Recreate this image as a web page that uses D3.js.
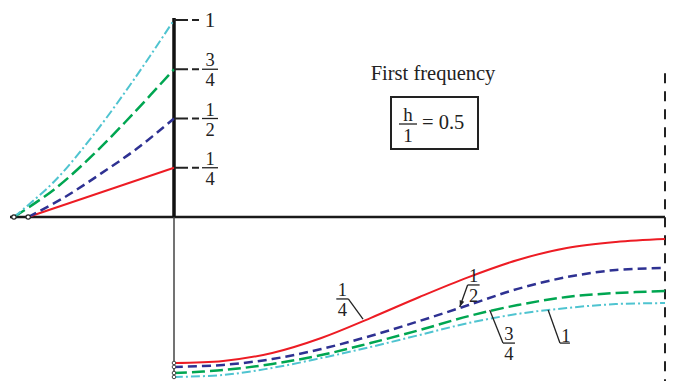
<!DOCTYPE html>
<html>
<head>
<meta charset="utf-8">
<script src="https://cdn.jsdelivr.net/npm/d3@7"></script>
<style>
  body { margin: 0; background: #fff; }
  text { font-family: "Liberation Serif", "Times New Roman", serif; fill: #222; }
</style>
</head>
<body>
<div id="chart"></div>
<script>
// mode shape data, x = position along the beam (0..1), v = deflection
const seriesNames = ["1/4", "1/2", "3/4", "1"];

// upper part (left of the support)
const leftXRed = [-0.297, 0];
const leftRed = [0, 0.25];
const leftXBlue = [-0.297, -0.223, -0.149, -0.074, 0];
const leftBlue = [0, 0.10, 0.22, 0.35, 0.5];
const leftXGreen = [-0.326, -0.244, -0.163, -0.081, 0];
const leftGreen = [0, 0.14, 0.32, 0.53, 0.75];
const leftXCyan = [-0.326, -0.244, -0.163, -0.081, 0];
const leftCyan = [0, 0.18, 0.42, 0.70, 1.0];

// lower part (span)
const lowerX = [0, 0.1, 0.2, 0.3, 0.4, 0.5, 0.6, 0.7, 0.8, 0.9, 1.0];
const lowerRed = [-0.741, -0.731, -0.690, -0.614, -0.513, -0.406, -0.305, -0.218, -0.157, -0.127, -0.112];
const lowerBlue = [-0.761, -0.751, -0.721, -0.670, -0.604, -0.528, -0.447, -0.365, -0.305, -0.269, -0.259];
const lowerGreen = [-0.792, -0.777, -0.746, -0.701, -0.640, -0.574, -0.503, -0.447, -0.406, -0.386, -0.376];
const lowerCyan = [-0.812, -0.802, -0.766, -0.716, -0.660, -0.599, -0.538, -0.492, -0.462, -0.442, -0.437];

// tick values on the vertical axis
const tickVals = [0.25, 0.5, 0.75, 1];
const tickLabels = ["1/4", "1/2", "3/4", "1"];

const width = 674;
const height = 381;

const x = d3.scaleLinear().domain([0, 1]).range([174, 665]);
const y = d3.scaleLinear().domain([0, 1]).range([217, 20]);

const svg = d3.select("#chart").append("svg")
  .attr("width", width).attr("height", height);

const styles = [
  { color: "#ed1c24", w: 2, dash: null },
  { color: "#2e3192", w: 2.5, dash: "9,5" },
  { color: "#00a651", w: 2.5, dash: "13,5" },
  { color: "#4fc4d0", w: 2, dash: "9,3,2,3" }
];

const leftSets = [
  [leftXRed, leftRed], [leftXBlue, leftBlue], [leftXGreen, leftGreen], [leftXCyan, leftCyan]
];
const lowerSets = [lowerRed, lowerBlue, lowerGreen, lowerCyan];

// axes
svg.append("line")
  .attr("x1", 10).attr("x2", x(1)).attr("y1", y(0)).attr("y2", y(0))
  .attr("stroke", "#1a1a1a").attr("stroke-width", 2.5);
svg.append("line")
  .attr("x1", x(0)).attr("x2", x(0)).attr("y1", y(1) - 2).attr("y2", y(0))
  .attr("stroke", "#111").attr("stroke-width", 3.5);
svg.append("line")
  .attr("x1", x(0)).attr("x2", x(0)).attr("y1", y(0)).attr("y2", y(-0.82))
  .attr("stroke", "#444").attr("stroke-width", 1.5);
// right end dashed line
svg.append("line")
  .attr("x1", x(1)).attr("x2", x(1)).attr("y1", y(0.73)).attr("y2", height)
  .attr("stroke", "#222").attr("stroke-width", 2)
  .attr("stroke-dasharray", "10,8");

const line = d3.line()
  .x(d => x(d[0]))
  .y(d => y(d[1]))
  .curve(d3.curveCatmullRom);

// curves
styles.forEach((s, i) => {
  const lx = leftSets[i][0], lv = leftSets[i][1];
  svg.append("path")
    .attr("fill", "none")
    .attr("stroke", s.color)
    .attr("stroke-width", s.w)
    .attr("stroke-dasharray", s.dash)
    .attr("d", line(lx.map((v, j) => [v, lv[j]])));
  svg.append("path")
    .attr("fill", "none")
    .attr("stroke", s.color)
    .attr("stroke-width", s.w)
    .attr("stroke-dasharray", s.dash)
    .attr("d", line(lowerX.map((v, j) => [v, lowerSets[i][j]])));
});

// small hinge circles
[leftXCyan[0], leftXRed[0]].forEach(v => {
  svg.append("circle").attr("cx", x(v)).attr("cy", y(0)).attr("r", 2.2)
    .attr("fill", "#fff").attr("stroke", "#222").attr("stroke-width", 1.2);
});
lowerSets.forEach(arr => {
  svg.append("circle").attr("cx", x(0)).attr("cy", y(arr[0])).attr("r", 1.8)
    .attr("fill", "#fff").attr("stroke", "#444").attr("stroke-width", 1);
});

// ticks with fraction labels
const fontSize = 18.5;
const drawFrac = (g, cx, cy, label, barHalf) => {
  const parts = label.split("/");
  if (parts.length === 1) {
    g.append("text").attr("x", cx).attr("y", cy + 7)
      .attr("text-anchor", "middle").attr("font-size", 21).text(parts[0]);
    return;
  }
  g.append("text").attr("x", cx).attr("y", cy - 3)
    .attr("text-anchor", "middle").attr("font-size", fontSize).text(parts[0]);
  g.append("line").attr("x1", cx - barHalf).attr("x2", cx + barHalf)
    .attr("y1", cy).attr("y2", cy).attr("stroke", "#222").attr("stroke-width", 1.3);
  g.append("text").attr("x", cx).attr("y", cy + 17)
    .attr("text-anchor", "middle").attr("font-size", fontSize).text(parts[1]);
};

const ticks = svg.append("g");
tickVals.forEach((t, i) => {
  ticks.append("line")
    .attr("x1", x(0)).attr("x2", x(0) + 25)
    .attr("y1", y(t)).attr("y2", y(t))
    .attr("stroke", "#222").attr("stroke-width", 1.8)
    .attr("stroke-dasharray", "14,4,8");
  drawFrac(ticks, x(0) + 36, y(t), tickLabels[i], 8);
});

// title and parameter box
svg.append("text").attr("x", 433).attr("y", 80)
  .attr("text-anchor", "middle").attr("font-size", 20.5).text("First frequency");
svg.append("rect").attr("x", 391).attr("y", 97).attr("width", 87).attr("height", 52)
  .attr("fill", "none").attr("stroke", "#222").attr("stroke-width", 2);
const box = svg.append("g");
box.append("text").attr("x", 408).attr("y", 121)
  .attr("text-anchor", "middle").attr("font-size", 19).text("h");
box.append("line").attr("x1", 399).attr("x2", 417).attr("y1", 124).attr("y2", 124)
  .attr("stroke", "#222").attr("stroke-width", 1.3);
box.append("text").attr("x", 408).attr("y", 142)
  .attr("text-anchor", "middle").attr("font-size", 19).text("1");
box.append("text").attr("x", 422).attr("y", 129)
  .attr("font-size", 20.5).text("= 0.5");

// leader notes on the lower curves: tip (data) -> knee (data)
const noteTipX = [0.385, 0.582, 0.643, 0.762];
const noteTipV = [-0.518, -0.457, -0.472, -0.472];
const noteKneeX = [0.355, 0.598, 0.670, 0.786];
const noteKneeV = [-0.416, -0.345, -0.640, -0.640];
const noteSide = [-1, 1, 1, 1];

const notes = svg.append("g");
seriesNames.forEach((name, i) => {
  const tx = x(noteTipX[i]), ty = y(noteTipV[i]);
  const kx = x(noteKneeX[i]), ky = y(noteKneeV[i]);
  notes.append("line").attr("x1", tx).attr("y1", ty).attr("x2", kx).attr("y2", ky)
    .attr("stroke", "#222").attr("stroke-width", 1.3);
  if (i === 1) {
    // little arrow head at the tip
    const a = Math.atan2(ty - ky, tx - kx);
    const p = [
      [tx, ty],
      [tx - 7 * Math.cos(a - 0.35), ty - 7 * Math.sin(a - 0.35)],
      [tx - 7 * Math.cos(a + 0.35), ty - 7 * Math.sin(a + 0.35)]
    ];
    notes.append("path").attr("d", "M" + p.join("L") + "Z").attr("fill", "#222");
  }
  const cx = noteSide[i] < 0 ? kx - 6 : kx + 6;
  if (name.indexOf("/") < 0) {
    notes.append("line").attr("x1", kx).attr("x2", kx + 10).attr("y1", ky).attr("y2", ky)
      .attr("stroke", "#222").attr("stroke-width", 1.3);
    notes.append("text").attr("x", kx + 6).attr("y", ky - 1)
      .attr("text-anchor", "middle").attr("font-size", fontSize).text(name);
  } else {
    drawFrac(notes, cx, ky, name, 6);
  }
});
</script>
</body>
</html>
